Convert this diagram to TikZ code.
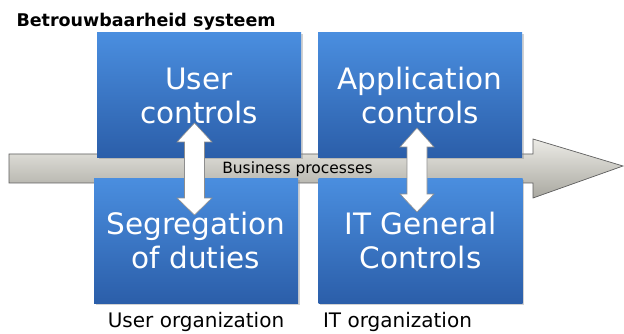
\documentclass[tikz,border=0pt]{standalone}
\usepackage{fontspec}
\setmainfont{DejaVu Sans}
\usetikzlibrary{shadows}
\definecolor{boxtop}{HTML}{4A8EDF}
\definecolor{boxbot}{HTML}{2B5EA9}
\definecolor{bartop}{HTML}{ECEBE6}
\definecolor{barbot}{HTML}{A9A8A0}
\definecolor{edgegray}{HTML}{5E5E5E}
\tikzset{
  ctrlbox/.style={draw=none,top color=boxtop,bottom color=boxbot,
    minimum width=204pt,minimum height=125pt,align=center,text=white,
    font=\fontsize{29.5}{34}\selectfont,
    drop shadow={opacity=0.35,shadow xshift=1.5pt,shadow yshift=-1.5pt}},
  orglabel/.style={font=\fontsize{20}{24}\selectfont},
  linkarrow/.style={fill=white,draw=edgegray!70,line width=0.6pt,line join=miter}
}

\begin{document}
\begin{tikzpicture}[scale=1.000000,x=1pt,y=-1pt]
\fill[white] (0,0) rectangle (624,334);
\useasboundingbox (0,0) rectangle (624,334);
% Title
\node[anchor=west,font=\fontsize{17.5}{20}\bfseries\selectfont] (title) at (13,22) {Betrouwbaarheid systeem};
% Drawing the process arrow
\shade[top color=bartop,bottom color=barbot,draw=edgegray,line width=0.7pt]
  (9,154) -- (533,154) -- (533,139) -- (623,166) -- (533,198) -- (533,183) -- (9,183) -- cycle;
% Done with arrow; drawing boxes
\node[ctrlbox] (user) at (199,95.5) {User\\controls};
\node[ctrlbox] (appl) at (420,95.5) {Application\\controls};
\node[ctrlbox] (sod) at (196,241) {Segregation\\of duties};
\node[ctrlbox] (itgc) at (420.5,241) {IT General\\Controls};
% Label on the process arrow
\node[font=\fontsize{15.5}{18}\selectfont] (proc) at (297.5,169) {Business processes};
% Double arrows between the boxes
\draw[linkarrow] (194.5,123) -- (212,142) -- (204.5,142) -- (204.5,198) -- (212,198) -- (194.5,215)
  -- (177,198) -- (184.5,198) -- (184.5,142) -- (177,142) -- cycle;
\draw[linkarrow] (417,128) -- (434,147) -- (427,147) -- (427,194) -- (434,194) -- (417,212)
  -- (400,194) -- (407,194) -- (407,147) -- (400,147) -- cycle;
% Organization labels
\node[orglabel] (userorg) at (196,322) {User organization};
\node[orglabel] (itorg) at (397.5,322) {IT organization};
\end{tikzpicture}
\end{document}
